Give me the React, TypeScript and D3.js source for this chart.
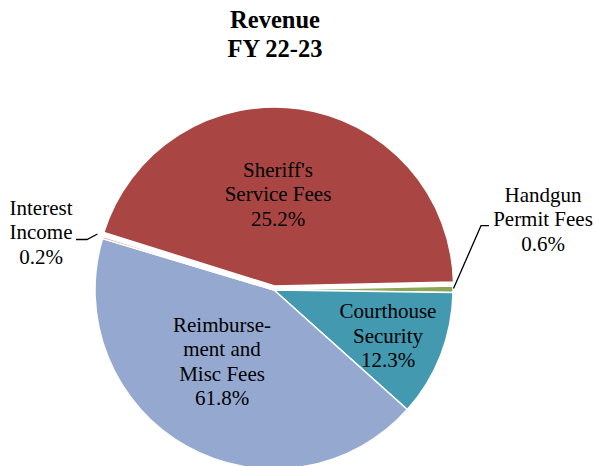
import React from "react";
import * as d3 from "d3";

const categories = ["Sheriff's Service Fees", "Handgun Permit Fees", "Courthouse Security", "Reimbursement and Misc Fees", "Interest Income"];
// slice shares as drawn in the picture (angle share, %)
const values = [44.8, 0.6, 11.4, 43.0, 0.2];
// printed percentage labels
const percentLabels = ["25.2%", "0.6%", "12.3%", "61.8%", "0.2%"];
const labelLines = [
  ["Sheriff's", "Service Fees"],
  ["Handgun", "Permit Fees"],
  ["Courthouse", "Security"],
  ["Reimburse-", "ment and", "Misc Fees"],
  ["Interest", "Income"],
];
const colors = ["#A94644", "#8CA653", "#4399AF", "#95A9D0", "#E0A09E"];
const titleLines = ["Revenue", "FY 22-23"];

const W = 595;
const H = 466;
const cx = 274;
const cy = 290;
const R = 179;
const startDeg = 287.4;
const explode = [4, 0, 0, 0, 0];

// label anchor positions (centre x, first baseline y)
const labelPos: [number, number][] = [
  [278, 176.7],
  [543, 201.7],
  [388, 318.3],
  [222, 331.7],
  [41, 215],
];

export default function App() {
  const start = ((startDeg - 360) * Math.PI) / 180;
  const pie = d3
    .pie<number>()
    .sort(null)
    .value((d) => d)
    .startAngle(start)
    .endAngle(start + 2 * Math.PI);
  const arcs = pie(values);
  const arc = d3.arc<d3.PieArcDatum<number>>().innerRadius(0).outerRadius(R);
  const font = "Liberation Serif";
  const fs = 21;
  const lh = 24.4;

  return (
    <svg width={W} height={H} style={{ position: "absolute", left: 0, top: 0, background: "#fff" }}>
      <rect width={W} height={H} fill="#fff" />
      <g style={{ fontFamily: font }} fontWeight="bold" fontSize={24.5} textAnchor="middle" fill="#000">
        {titleLines.map((t, i) => (
          <text key={i} x={275} y={27.5 + i * 29} style={{ fontFamily: font }}>
            {t}
          </text>
        ))}
      </g>
      <g transform={`translate(${cx},${cy})`}>
        {arcs.map((a, i) => {
          const mid = (a.startAngle + a.endAngle) / 2;
          const dx = Math.sin(mid) * explode[i];
          const dy = -Math.cos(mid) * explode[i];
          return (
            <path
              key={i}
              d={arc(a) || ""}
              transform={`translate(${dx},${dy})`}
              fill={colors[i]}
              stroke="#fff"
              strokeWidth={1.5}
              strokeLinejoin="round"
            />
          );
        })}
      </g>
      {/* leader lines */}
      <polyline points="76,239.5 87,239.5 97.5,234" fill="none" stroke="#000" strokeWidth={1.3} />
      <polyline points="489,225.7 481,225.7 453.5,288.5" fill="none" stroke="#000" strokeWidth={1.3} />
      <g fontSize={fs} textAnchor="middle" fill="#000">
        {labelPos.map(([x, y], i) => (
          <text key={categories[i]} x={x} y={y} style={{ fontFamily: font }}>
            {labelLines[i].map((l, j) => (
              <tspan key={j} x={x} y={y + j * lh}>
                {l}
              </tspan>
            ))}
            <tspan x={x} y={y + labelLines[i].length * lh}>
              {percentLabels[i]}
            </tspan>
          </text>
        ))}
      </g>
    </svg>
  );
}
